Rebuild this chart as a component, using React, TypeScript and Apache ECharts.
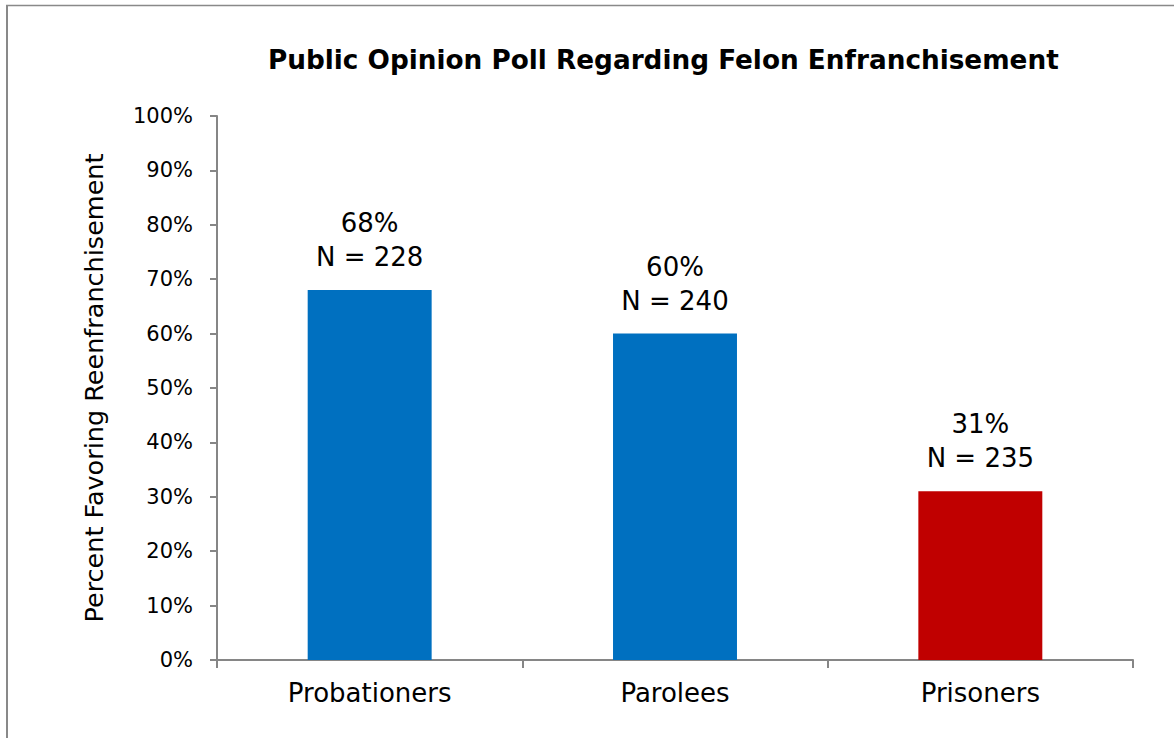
import React, { useEffect, useRef } from "react";
import * as echarts from "echarts";

const categories = ["Probationers", "Parolees", "Prisoners"];
const percents = [68, 60, 31];
const counts = [228, 240, 235];
const barColors = ["#0070C0", "#0070C0", "#C00000"];
const yTicks = [0, 10, 20, 30, 40, 50, 60, 70, 80, 90, 100];

const FONT = "DejaVu Sans";

export default function App() {
  const ref = useRef<HTMLDivElement>(null);
  useEffect(() => {
    if (!ref.current) return;
    const chart = echarts.init(ref.current, null, { renderer: "svg" });
    chart.setOption({
      animation: false,
      backgroundColor: "#ffffff",
      title: {
        text: "Public Opinion Poll Regarding Felon Enfranchisement",
        left: 263,
        top: 42,
        textStyle: { fontFamily: FONT, fontSize: 26.3, fontWeight: "bold", color: "#000" },
      },
      graphic: [
        { type: "line", shape: { x1: 6, y1: 5.5, x2: 1174, y2: 5.5 }, style: { stroke: "#898989", lineWidth: 1.5 } },
        { type: "line", shape: { x1: 7, y1: 5, x2: 7, y2: 738 }, style: { stroke: "#898989", lineWidth: 2 } },
      ],
      grid: { left: 217, right: 41, top: 116, bottom: 78 },
      xAxis: {
        type: "category",
        data: categories,
        axisLine: { lineStyle: { color: "#868686", width: 2 } },
        axisTick: { show: true, length: 8, lineStyle: { color: "#868686", width: 2 } },
        axisLabel: { fontFamily: FONT, fontSize: 26, color: "#000", margin: 20 },
      },
      yAxis: {
        type: "value",
        min: yTicks[0],
        max: yTicks[yTicks.length - 1],
        interval: 10,
        name: "Percent Favoring Reenfranchisement",
        nameLocation: "middle",
        nameGap: 110,
        nameTextStyle: { fontFamily: FONT, fontSize: 25.5, color: "#000" },
        axisLine: { show: true, lineStyle: { color: "#868686", width: 2 } },
        axisTick: { show: true, length: 7, lineStyle: { color: "#868686", width: 2 } },
        splitLine: { show: false },
        axisLabel: { fontFamily: FONT, fontSize: 21, color: "#000", margin: 24, formatter: "{value}%" },
      },
      series: [
        {
          type: "bar",
          barWidth: "40.6%",
          data: percents.map((v, i) => ({ value: v, itemStyle: { color: barColors[i] } })),
          label: {
            show: true,
            position: "top",
            distance: 16,
            fontFamily: FONT,
            fontSize: 26,
            lineHeight: 34,
            color: "#000",
            formatter: (p: any) => `${percents[p.dataIndex]}%\nN = ${counts[p.dataIndex]}`,
          },
        },
      ],
    });
    return () => chart.dispose();
  }, []);
  return (
    <div
      ref={ref}
      style={{ position: "fixed", left: 0, top: 0, width: 1174, height: 738 }}
    />
  );
}
